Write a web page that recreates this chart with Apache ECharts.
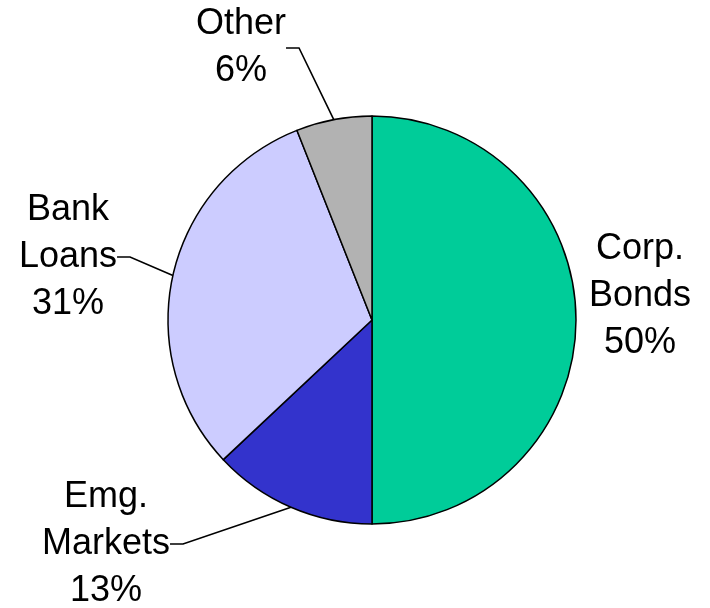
<!DOCTYPE html>
<html>
<head>
<meta charset="utf-8">
<script src="https://cdn.jsdelivr.net/npm/echarts@6/dist/echarts.min.js"></script>
<style>
html,body{margin:0;padding:0;background:#fff;}
#chart{width:710px;height:608px;}
</style>
</head>
<body>
<div id="chart"></div>
<script>
const categories = ["Corp.\nBonds", "Emg.\nMarkets", "Bank\nLoans", "Other"];
const values = [50, 13, 31, 6];
const colors = ["#00CC99", "#3333CC", "#CCCCFF", "#B2B2B2"];

// label anchor positions (layout only)
const labelPos = [[640, 296], [106, 544], [68, 257], [241, 48]];

const chart = echarts.init(document.getElementById('chart'), null, {renderer: 'canvas'});
const data = categories.map((c, i) => ({
  name: c,
  value: values[i],
  itemStyle: {color: colors[i]},
  labelLine: {show: i !== 0}
}));

chart.setOption({
  animation: false,
  backgroundColor: '#ffffff',
  series: [{
    type: 'pie',
    center: [372, 320],
    radius: 204,
    startAngle: 90,
    clockwise: true,
    avoidLabelOverlap: false,
    data: data,
    itemStyle: {borderColor: '#000000', borderWidth: 1.5},
    label: {
      show: true,
      position: 'outside',
      formatter: p => p.name + '\n' + Math.round(p.percent) + '%',
      fontFamily: 'Liberation Sans, Arial, sans-serif',
      fontSize: 36,
      lineHeight: 47,
      color: '#000000',
      align: 'center'
    },
    labelLine: {
      show: true,
      length: 20,
      length2: 13,
      lineStyle: {color: '#000000', width: 1.6}
    },
    labelLayout: function (params) {
      const p = labelPos[params.dataIndex];
      return {x: p[0], y: p[1], align: 'center', verticalAlign: 'middle'};
    },
    emphasis: {disabled: true}
  }]
});
</script>
</body>
</html>
